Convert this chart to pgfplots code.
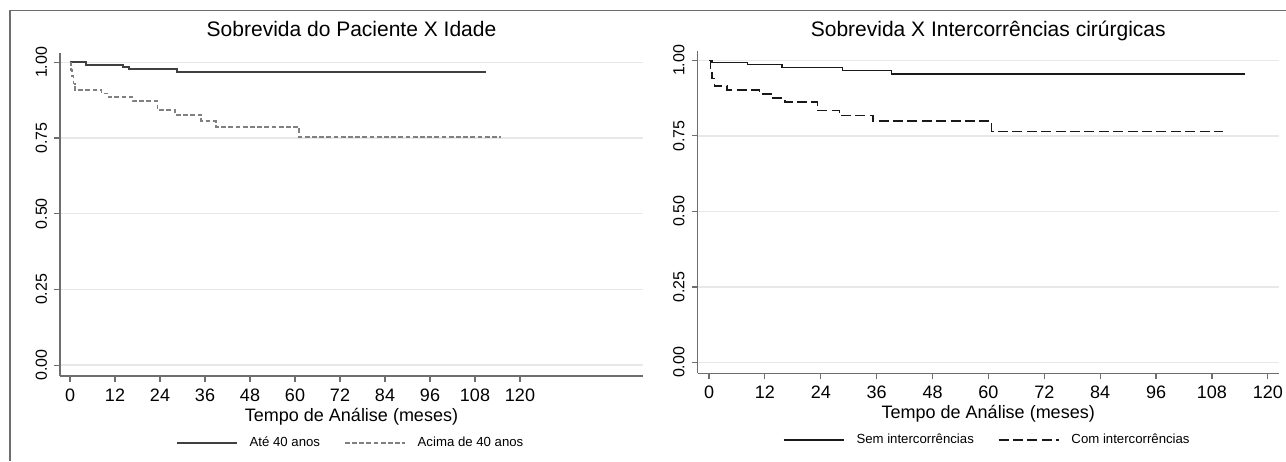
\documentclass[border=0pt]{standalone}
\usepackage{fontspec}
\setmainfont{Liberation Sans}
\usepackage{pgfplots}
\pgfplotsset{compat=1.18}

\definecolor{axisgray}{RGB}{110,110,110}
\definecolor{gridgray}{RGB}{232,232,232}
\definecolor{solidgray}{RGB}{64,64,64}
\definecolor{dashgray}{RGB}{128,128,128}
\definecolor{ink}{RGB}{25,25,25}

\pgfplotsset{
  km/.style={
    scale only axis,
    axis x line*=bottom, axis y line*=left,
    axis line style={draw=axisgray, line width=0.6pt},
    every outer x axis line/.append style={-},
    every outer y axis line/.append style={-},
    tick align=outside, major tick length=3pt,
    tick style={draw=axisgray, line width=0.6pt},
    ymin=-0.036, ymax=1.031,
    ytick={0,0.25,0.5,0.75,1},
    yticklabel style={rotate=90, anchor=south, font=\fontsize{8}{9}\selectfont,
      /pgf/number format/.cd, fixed, fixed zerofill, precision=2},
    xtick={0,12,...,120},
    xticklabel style={font=\fontsize{9}{10}\selectfont},
    /pgf/number format/assume math mode=true,
    ymajorgrids, grid style={draw=gridgray, line width=0.7pt},
    xlabel={Tempo de Análise (meses)},
    xlabel style={at={(axis description cs:0.5,-0.126)}, anchor=center,
      font=\fontsize{9}{10}\selectfont},
    title style={at={(axis description cs:0.5,1)}, anchor=base,
      font=\fontsize{10.5}{12}\selectfont},
    legend columns=2,
    legend style={draw=none, fill=none, at={(0.5,-0.207)}, anchor=center,
      font=\fontsize{6.6}{8}\selectfont,
      /tikz/every odd column/.append style={column sep=4pt},
      /tikz/every even column/.append style={column sep=10pt}},
    legend image code/.code={\draw[#1] (0pt,0pt) -- (30pt,0pt);},
  }
}

\begin{document}
\begin{tikzpicture}
\useasboundingbox (0,0) rectangle (643pt,230.5pt);
% outer frame (left and top edges are all that show)
\draw[draw=axisgray, line width=0.75pt] (5pt,0pt) -- (5pt,225.2pt) -- (643pt,225.2pt);

\begin{axis}[km,
  at={(30pt,42.5pt)}, anchor=south west,
  width=291.5pt, height=161.5pt,
  xmin=-2.67, xmax=152.8,
  title={Sobrevida do Paciente X Idade},
  title style={yshift=2pt},
]
  \addplot[const plot, draw=solidgray, line width=1pt] coordinates {
    (0,1.000) (4.2,0.992) (14.1,0.984) (15.6,0.977) (28.6,0.967) (110.9,0.967)
  };
  \addlegendentry{Até 40 anos}
  \addplot[const plot, draw=dashgray, line width=0.8pt, dash pattern=on 2.4pt off 1.2pt] coordinates {
    (0,1.000) (0.3,0.975) (0.6,0.955) (0.9,0.930) (1.3,0.908) (8.4,0.897)
    (10.3,0.885) (16.7,0.872) (23.3,0.843) (28,0.827) (35,0.806) (39,0.786)
    (61.1,0.753) (115,0.753)
  };
  \addlegendentry{Acima de 40 anos}
\end{axis}

\begin{axis}[km,
  at={(348.75pt,43.85pt)}, anchor=south west,
  width=290.75pt, height=161.15pt,
  xmin=-2.47, xmax=122.4,
  title={Sobrevida X Intercorrências cirúrgicas},
  title style={yshift=1.5pt},
]
  \addplot[const plot, draw=ink, line width=0.8pt] coordinates {
    (0,1.000) (0.7,0.993) (8.3,0.986) (15.7,0.977) (28.7,0.967) (39.2,0.955) (115.2,0.955)
  };
  \addlegendentry{Sem intercorrências}
  \addplot[const plot, draw=ink, line width=0.8pt, dash pattern=on 5pt off 2.2pt] coordinates {
    (0,1.000) (0.3,0.970) (0.7,0.940) (1.2,0.915) (3.9,0.901) (10.8,0.889)
    (13.8,0.876) (16.3,0.862) (23.3,0.834) (28,0.817) (35.2,0.799)
    (60.7,0.765) (110.3,0.765)
  };
  \addlegendentry{Com intercorrências}
\end{axis}
\end{tikzpicture}
\end{document}
